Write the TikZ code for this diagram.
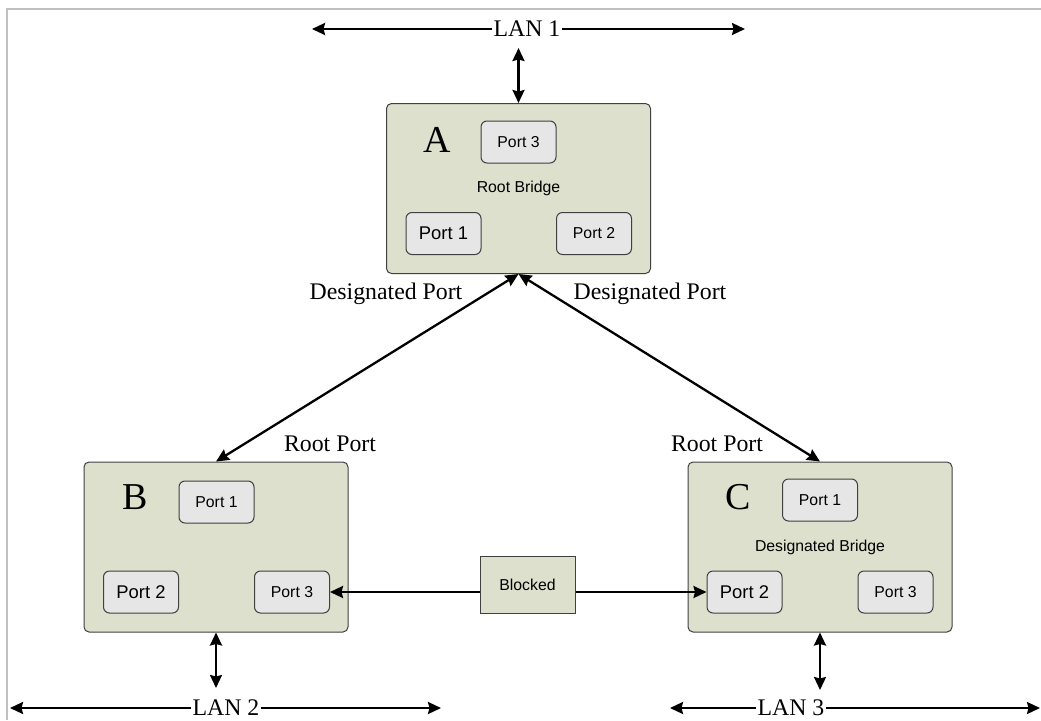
\documentclass[tikz,border=0pt]{standalone}
\usepackage{fontspec}
\setmainfont{Liberation Serif}
\setsansfont{Liberation Sans}
\usetikzlibrary{arrows.meta,positioning}
\definecolor{brfill}{HTML}{DDE0CC}
\definecolor{ptfill}{HTML}{E6E6E6}
\definecolor{bredge}{HTML}{404040}
\definecolor{pgframe}{HTML}{C0C0C0}

\begin{document}
\begin{tikzpicture}[x=1pt, y=-1pt,
  bridge/.style={draw=bredge, fill=brfill, rounded corners=5pt, line width=1pt,
                 minimum width=264pt, minimum height=170pt, inner sep=0pt,
                 font=\sffamily\fontsize{15.8}{18}\selectfont},
  port/.style={draw=bredge, fill=ptfill, rounded corners=6pt, line width=1pt,
               minimum width=75pt, minimum height=42pt, inner sep=0pt,
               font=\sffamily\fontsize{15.8}{18}\selectfont},
  bigport/.style={port, font=\sffamily\fontsize{18.4}{20}\selectfont},
  letter/.style={font=\fontsize{38}{40}\selectfont},
  lbl/.style={font=\fontsize{23.8}{26}\selectfont, inner sep=1pt},
  link/.style={line width=2.3pt, {Stealth[length=13pt,width=12pt,inset=1.5pt]}-{Stealth[length=13pt,width=12pt,inset=1.5pt]}},
  oneway/.style={line width=2.3pt, -{Stealth[length=13pt,width=12pt,inset=1.5pt]}}]
  \useasboundingbox (0,0) rectangle (1041,720);
  \draw[pgframe, line width=2pt] (7,720) -- (7,9) -- (1041,9);

  % bridges
  \node[bridge] (A) at (518.5,188.5) {Root Bridge};
  \node[bridge] (B) at (216,547) {};
  \node[bridge] (C) at (820,547) {Designated Bridge};
  \node[letter] (la) at (437,140) {A};
  \node[letter] (lb) at (135,497) {B};
  \node[letter] (lc) at (738,497) {C};

  % ports
  \node[port]    (ap3) at (518.5,142) {Port 3};
  \node[bigport] (ap1) at (443.5,233.5) {Port 1};
  \node[port]    (ap2) at (594,233.5) {Port 2};
  \node[port]    (bp1) at (216.5,502) {Port 1};
  \node[bigport] (bp2) at (141,592) {Port 2};
  \node[port]    (bp3) at (292,592) {Port 3};
  \node[port]    (cp1) at (820,500) {Port 1};
  \node[bigport] (cp2) at (744.5,592) {Port 2};
  \node[port]    (cp3) at (895.5,592) {Port 3};

  \node[draw=bredge, fill=brfill, line width=1pt, minimum width=95pt, minimum height=57pt,
        font=\sffamily\fontsize{15.8}{18}\selectfont] (blk) at (527.5,584.5) {Blocked};

  % LAN segments
  \node[lbl, fill=white] (lan1) at (527,29) {LAN 1};
  \node[lbl, fill=white] (lan2) at (226,708) {LAN 2};
  \node[lbl, fill=white] (lan3) at (791,708) {LAN 3};
  \coordinate (lan1w) at (312,29);  \coordinate (lan1e) at (745,29);
  \coordinate (lan2w) at (10,708);  \coordinate (lan2e) at (441,708);
  \coordinate (lan3w) at (670,708); \coordinate (lan3e) at (1040,708);
  \coordinate (atop) at (518.5,48);
  \coordinate (bbot) at (216,688);
  \coordinate (cbot) at (820,690);
  \draw[oneway] (lan1) -- (lan1w);
  \draw[oneway] (lan1) -- (lan1e);
  \draw[oneway] (lan2) -- (lan2w);
  \draw[oneway] (lan2) -- (lan2e);
  \draw[oneway] (lan3) -- (lan3w);
  \draw[oneway] (lan3) -- (lan3e);
  \draw[link] (atop) -- (A.north);
  \draw[link] (B.south) -- (bbot);
  \draw[link] (C.south) -- (cbot);

  % spanning tree links
  \draw[link] (A.south) -- (B.north);
  \draw[link] (A.south) -- (C.north);
  \draw[oneway] (bp3.east -| blk.west) -- (bp3.east);
  \draw[oneway] (cp2.west -| blk.east) -- (cp2.west);

  \node[lbl] (dpl) at (386,294) {Designated Port};
  \node[lbl] (dpr) at (650,294) {Designated Port};
  \node[lbl] (rpl) at (330,444) {Root Port};
  \node[lbl] (rpr) at (717,444) {Root Port};
\end{tikzpicture}
\end{document}
